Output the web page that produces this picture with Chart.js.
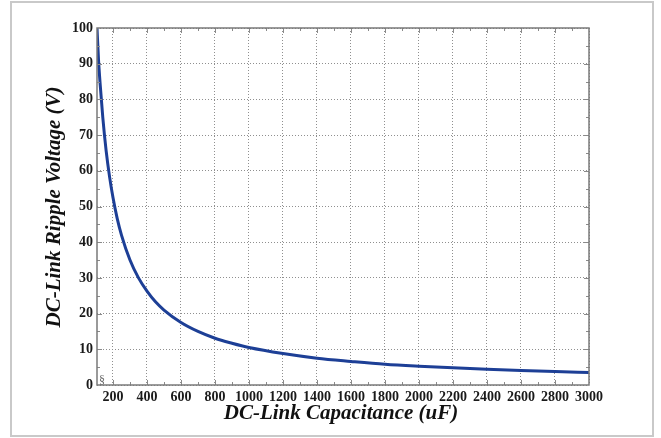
<!DOCTYPE html>
<html>
<head>
<meta charset="utf-8">
<script src="https://cdn.jsdelivr.net/npm/chart.js@4.4.1/dist/chart.umd.min.js"></script>
<style>
  html, body { margin: 0; padding: 0; background: #fff; }
  #wrap { position: relative; width: 661px; height: 438px; }
  #frame { position: absolute; left: 10px; top: 1px; width: 644px; height: 436px; border: 2px solid #c9c9c9; box-sizing: border-box; }
  canvas { position: absolute; left: 0; top: 0; }
</style>
</head>
<body>
<div id="wrap">
  <div id="frame"></div>
  <canvas id="chart" width="661" height="438"></canvas>
</div>
<script>
// values
const capacitance = [106, 115, 125, 140, 160, 180, 200, 225, 250, 300, 350, 400, 450, 500, 600, 700, 800, 900, 1000, 1200, 1400, 1600, 1800, 2000, 2200, 2400, 2600, 2800, 3000];
const rippleVoltage = [100, 91, 84, 75, 65.5, 58.3, 52.5, 46.6, 42, 35, 30, 26.3, 23.3, 21, 17.5, 15, 13.1, 11.7, 10.5, 8.8, 7.5, 6.6, 5.8, 5.25, 4.8, 4.4, 4.05, 3.75, 3.5];

const xTicks = [200, 400, 600, 800, 1000, 1200, 1400, 1600, 1800, 2000, 2200, 2400, 2600, 2800, 3000];
const yTicks = [0, 10, 20, 30, 40, 50, 60, 70, 80, 90, 100];

const xTitle = 'DC-Link Capacitance (uF)';
const yTitle = 'DC-Link Ripple Voltage (V)';

const serif = "'Liberation Serif', 'DejaVu Serif', serif";

// frame, minor ticks, axis titles and the little break mark
const decorPlugin = {
    id: 'decor',
    afterDraw(chart) {
        const ctx = chart.ctx;
        const a = chart.chartArea;
        const xs = chart.scales.x;
        const ys = chart.scales.y;
        ctx.save();

        ctx.strokeStyle = '#8a8a8a';
        ctx.lineWidth = 1;
        ctx.beginPath();
        for (let v = 200; v < 3000; v += 100) {
            const px = Math.round(xs.getPixelForValue(v)) + 0.5;
            const len = v % 200 === 0 ? 5 : 3;
            ctx.moveTo(px, a.bottom); ctx.lineTo(px, a.bottom - len);
            ctx.moveTo(px, a.top); ctx.lineTo(px, a.top + len);
        }
        for (let v = 5; v < 100; v += 5) {
            const py = Math.round(ys.getPixelForValue(v)) + 0.5;
            const len = v % 10 === 0 ? 5 : 3;
            ctx.moveTo(a.left, py); ctx.lineTo(a.left + len, py);
            ctx.moveTo(a.right, py); ctx.lineTo(a.right - len, py);
        }
        ctx.stroke();

        ctx.strokeStyle = '#7a7a7a';
        ctx.lineWidth = 1.5;
        ctx.strokeRect(a.left, a.top, a.right - a.left, a.bottom - a.top);

        ctx.fillStyle = '#111';
        ctx.font = 'italic bold 21px ' + serif;
        ctx.textAlign = 'center';
        ctx.textBaseline = 'middle';
        ctx.fillText(xTitle, 341, 414);

        ctx.translate(55, 207);
        ctx.rotate(-Math.PI / 2);
        ctx.fillText(yTitle, 0, 0);
        ctx.setTransform(1, 0, 0, 1, 0, 0);

        ctx.font = '12px ' + serif;
        ctx.fillStyle = '#666';
        ctx.fillText('§', a.left + 5, a.bottom - 4);
        ctx.restore();
    }
};

new Chart(document.getElementById('chart').getContext('2d'), {
    type: 'line',
    data: {
        datasets: [{
            data: capacitance.map((c, i) => ({ x: c, y: rippleVoltage[i] })),
            borderColor: '#1d3f96',
            borderWidth: 3,
            pointRadius: 0,
            cubicInterpolationMode: 'monotone',
            fill: false
        }]
    },
    plugins: [decorPlugin],
    options: {
        responsive: false,
        animation: false,
        events: [],
        layout: { padding: { left: 0, top: 28, right: 72, bottom: 0 } },
        plugins: { legend: { display: false }, tooltip: { enabled: false } },
        scales: {
            x: {
                type: 'linear',
                min: 106,
                max: 3000,
                afterBuildTicks: s => { s.ticks = xTicks.map(v => ({ value: v })); },
                afterFit: s => { s.height = 53; },
                border: { display: false, dash: [1, 2] },
                grid: { color: '#8f8f8f', lineWidth: 1, drawTicks: false },
                ticks: {
                    color: '#1a1a1a',
                    padding: 4,
                    maxRotation: 0,
                    autoSkip: false,
                    callback: v => String(v),
                    font: { family: serif, size: 14, weight: 'bold' }
                }
            },
            y: {
                min: 0,
                max: 100,
                afterBuildTicks: s => { s.ticks = yTicks.map(v => ({ value: v })); },
                afterFit: s => { s.width = 97; },
                border: { display: false, dash: [1, 2] },
                grid: { color: '#8f8f8f', lineWidth: 1, drawTicks: false },
                ticks: {
                    color: '#1a1a1a',
                    padding: 4,
                    autoSkip: false,
                    callback: v => String(v),
                    font: { family: serif, size: 14, weight: 'bold' }
                }
            }
        }
    }
});
</script>
</body>
</html>
